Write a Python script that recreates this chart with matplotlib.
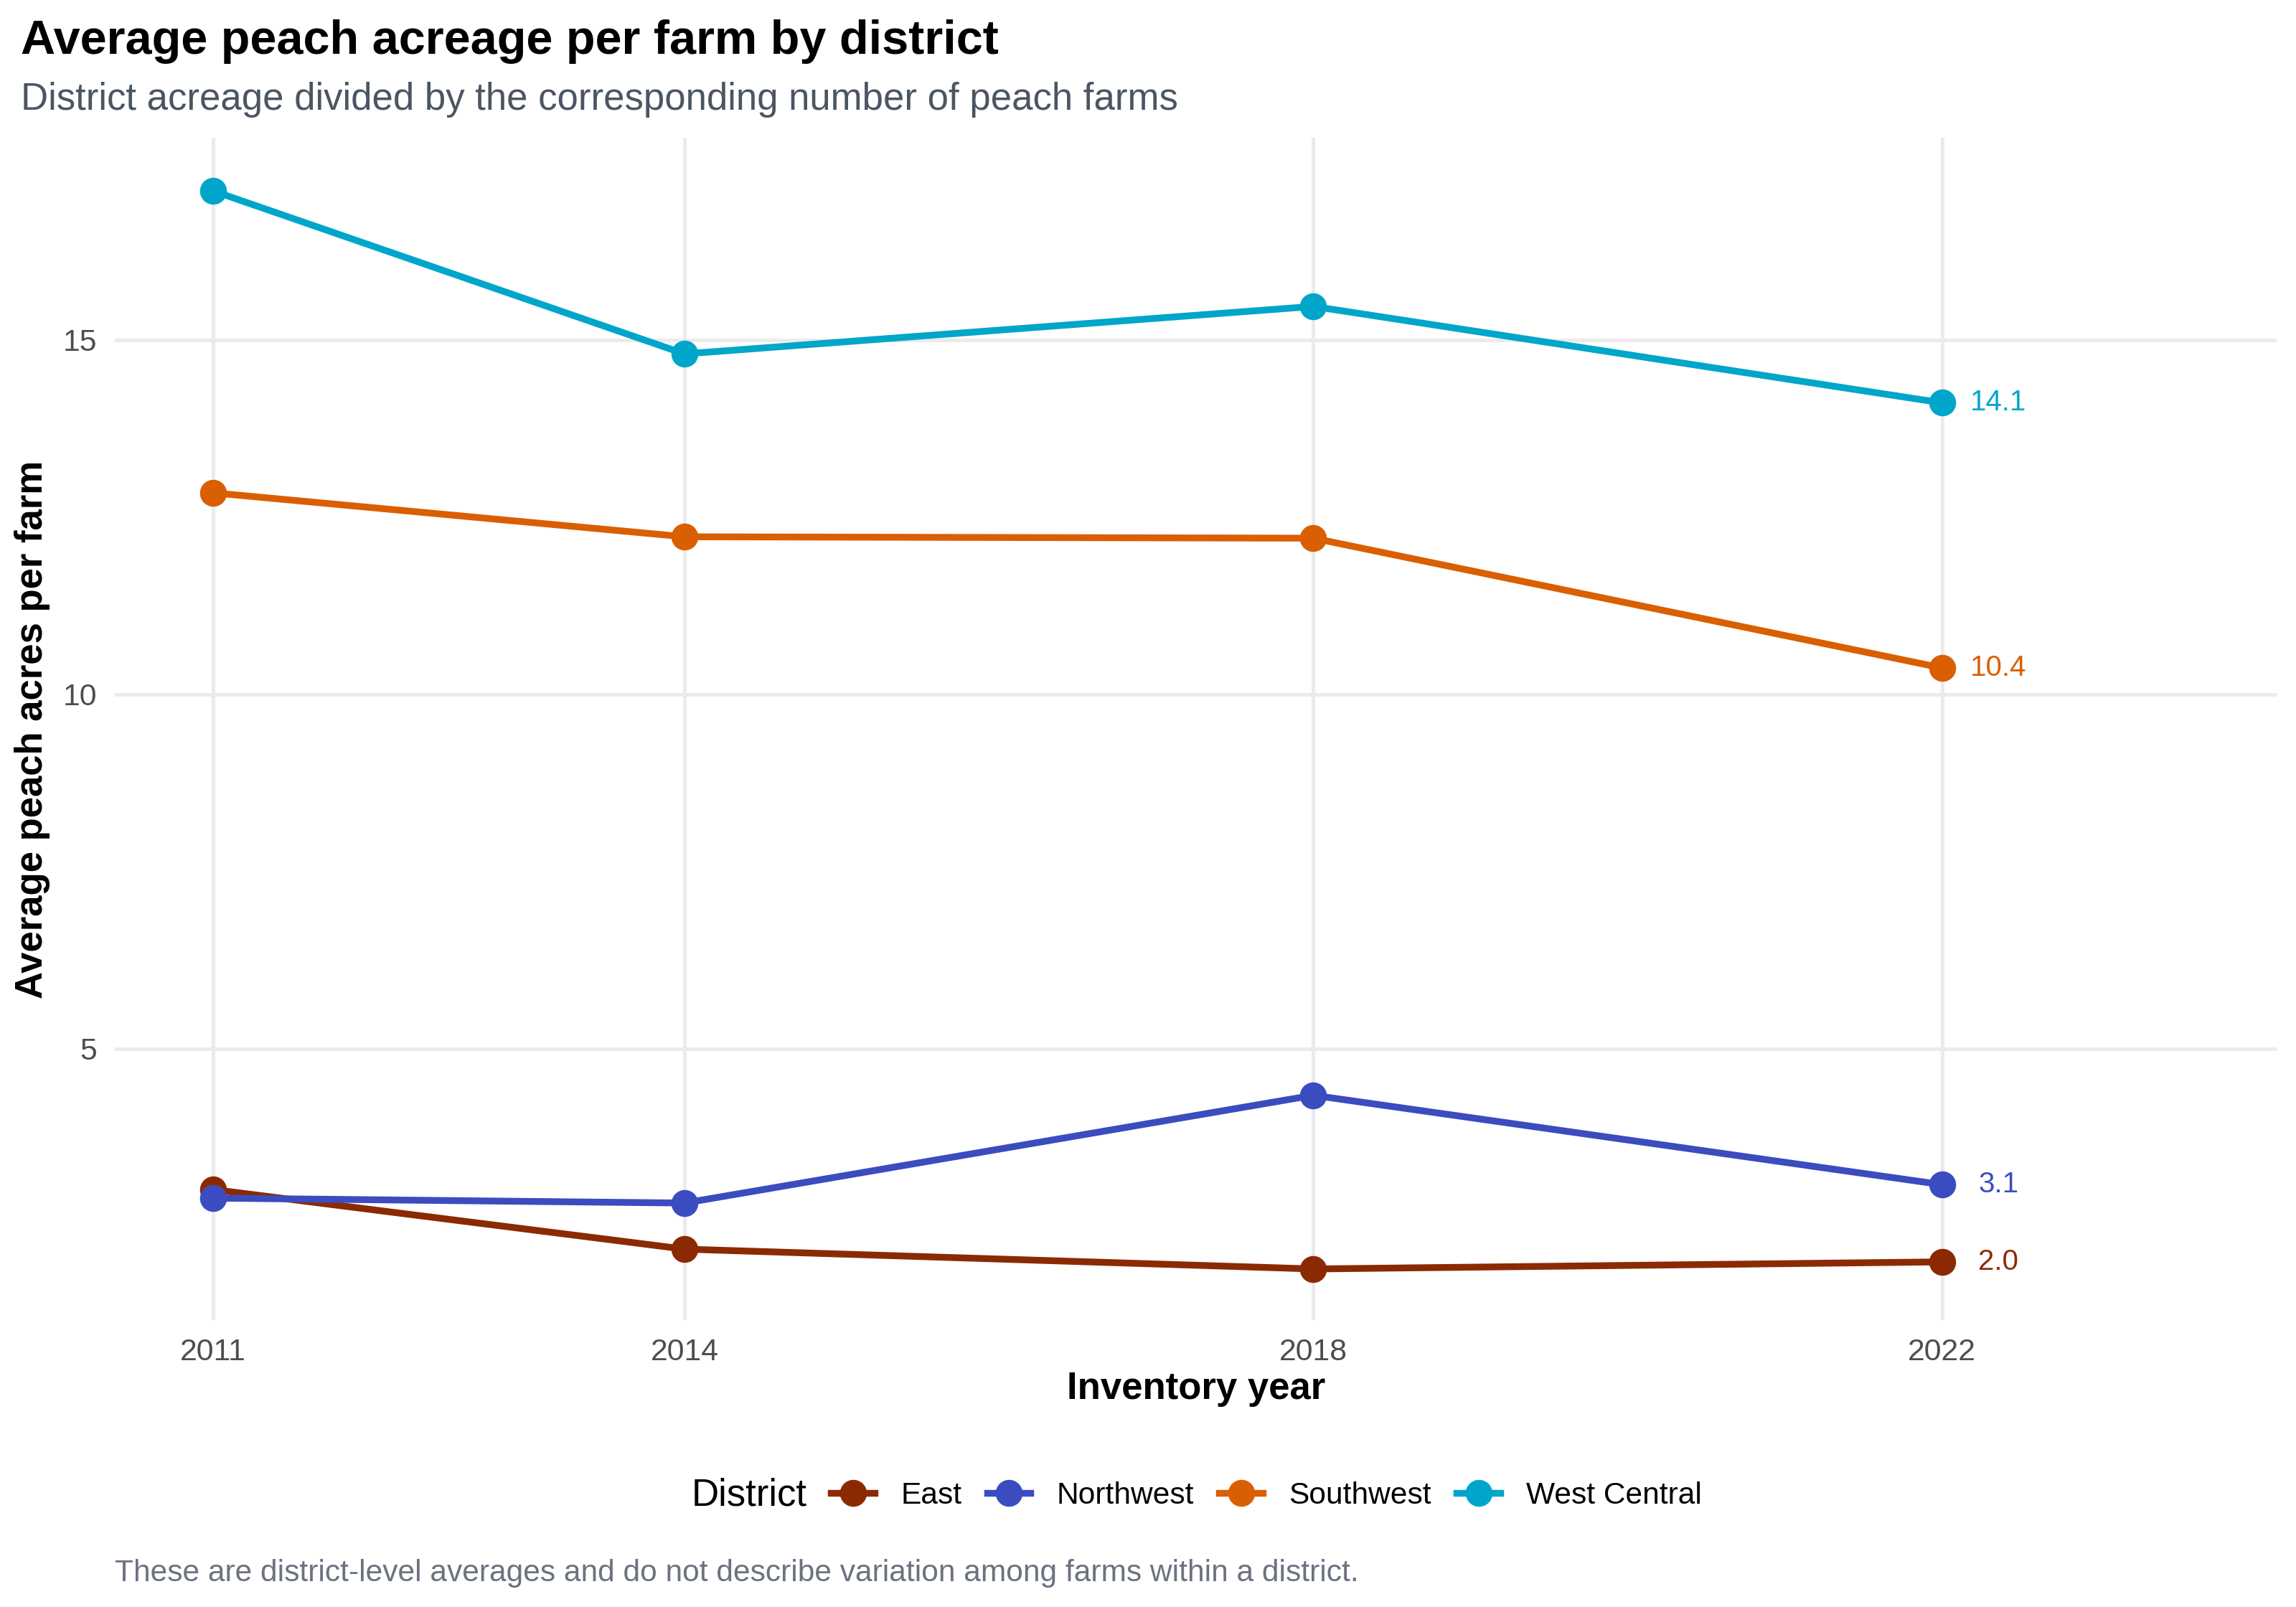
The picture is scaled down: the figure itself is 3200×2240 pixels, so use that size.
import matplotlib
matplotlib.use('Agg')
import matplotlib.pyplot as plt
from matplotlib.lines import Line2D

plt.rcParams['font.family'] = ['Liberation Sans', 'DejaVu Sans']

years = [2011, 2014, 2018, 2022]
districts = ['East', 'Northwest', 'Southwest', 'West Central']
east = [3.01, 2.17, 1.89, 1.99]
northwest = [2.89, 2.82, 4.34, 3.08]
southwest = [12.84, 12.22, 12.20, 10.37]
west_central = [17.10, 14.80, 15.47, 14.11]
end_labels = ['2.0', '3.1', '10.4', '14.1']
colors = ['#8B2A02', '#3B4CC0', '#D95F02', '#00A6CA']

series = [east, northwest, southwest, west_central]

fig = plt.figure(figsize=(16, 11.2), dpi=200)
ax = fig.add_axes([0.05, 0.1786, 0.9416, 0.7357])

for vals, col, lab in zip(series, colors, end_labels):
    ax.plot(years, vals, color=col, lw=3.4, marker='o', ms=12.5, zorder=3)
    ax.text(years[-1] + 0.36, vals[-1], lab, color=col, fontsize=14.5,
            ha='center', va='center')

ax.set_xlim(2010.375, 2024.13)
ax.set_ylim(1.17, 17.85)
ax.set_xticks(years)
ax.set_xticklabels([str(y) for y in years])
ax.set_yticks([5, 10, 15])
ax.grid(True, color='#EBEBEB', lw=1.8)
ax.set_axisbelow(True)
for s in ax.spines.values():
    s.set_visible(False)
ax.tick_params(length=0, labelsize=15.4, labelcolor='#4D4D4D', pad=9)

fig.text(0.009, 0.9665, 'Average peach acreage per farm by district',
         fontsize=24, fontweight='bold', color='black', va='baseline')
fig.text(0.009, 0.9317, 'District acreage divided by the corresponding number of peach farms',
         fontsize=19, color='#4B5563', va='baseline')
fig.text(0.014, 0.546, 'Average peach acres per farm', rotation=90,
         fontsize=19, fontweight='bold', ha='center', va='center')
fig.text(0.521, 0.1357, 'Inventory year', fontsize=19, fontweight='bold',
         ha='center', va='center')
fig.text(0.05, 0.021,
         'These are district-level averages and do not describe variation among farms within a district.',
         fontsize=15.3, color='#6B7280', va='center')

# legend: title on the left, entries in one row
fig.text(0.301, 0.0692, 'District', fontsize=19, va='center', ha='left')
handles = [Line2D([0], [0], color=c, lw=3.4, marker='o', ms=12.5) for c in colors]
fig.legend(handles, districts, loc='center left', bbox_to_anchor=(0.362, 0.0692),
           ncol=4, frameon=False, fontsize=15.3, borderpad=0, borderaxespad=0,
           handlelength=1.43, handletextpad=0.85, columnspacing=0.83)

fig.savefig('out.png', dpi=200)
